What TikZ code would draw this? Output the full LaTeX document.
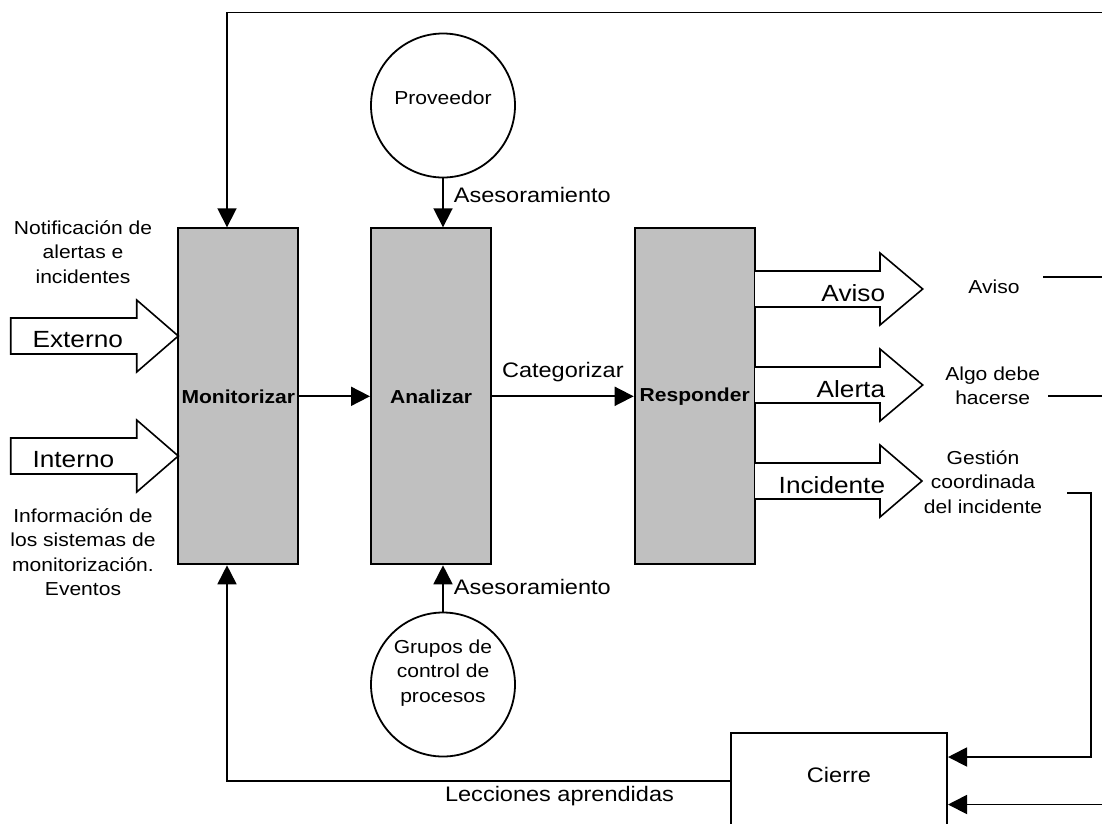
\documentclass[tikz,border=0pt]{standalone}
\usepackage{fontspec}
\setmainfont{Liberation Sans}[FakeStretch=1.12]
\usetikzlibrary{positioning,arrows.meta}
\definecolor{boxgray}{RGB}{192,192,192}

\begin{document}
\begin{tikzpicture}[x=1pt,y=-1pt,line width=1.8pt,>={Triangle[length=19pt,width=19pt]}]
  \tikzstyle{stage}=[rectangle,draw,fill=boxgray,line width=2pt,minimum width=120pt,minimum height=336pt,inner sep=0pt,font=\bfseries\fontsize{18.8}{24}\selectfont]
  \tikzstyle{party}=[circle,draw,minimum size=144pt,inner sep=0pt]
  \tikzstyle{note}=[inner sep=0pt,align=center,font=\fontsize{18.8}{24.5}\selectfont]
  \tikzstyle{flow}=[inner sep=0pt,font=\fontsize{21}{25}\selectfont]
  \tikzstyle{big}=[inner sep=0pt,font=\fontsize{23.4}{28}\selectfont]
  \tikzstyle{fat}=[draw,fill=white,line width=1.6pt]
  \useasboundingbox (0,0) rectangle (1102,823);

  \node[stage] (mon)  at (238.3,396.3) {Monitorizar};
  \node[stage] (ana)  at (431,396.3)   {Analizar};
  \node[stage] (resp) at (694.7,396.3) {Responder};
  \node[party] (prov) at (443,105.5) {};
  \node[party] (grp)  at (443,684.5) {};
  \node[note] (provtxt) at ([yshift=8pt]prov.center) {Proveedor};
  \node[note] (grptxt)  at (443,673) {Grupos de\\control de\\procesos};
  \node[draw,line width=2pt,minimum width=216pt,minimum height=97pt,inner sep=0pt] (cierre) at (839,781) {};
  \node[flow] (cierretxt) at (839,775) {Cierre};

  % entradas
  \draw[fat] (10.7,318) -- (136.7,318) -- (136.7,300) -- (178.3,336) -- (136.7,372) -- (136.7,354) -- (10.7,354) -- cycle;
  \draw[fat] (10.7,438) -- (136.7,438) -- (136.7,420) -- (178.3,456) -- (136.7,492) -- (136.7,474) -- (10.7,474) -- cycle;
  \node[big,anchor=west] (ext) at (31.7,340) {Externo};
  \node[big,anchor=west] (int) at (31.7,460) {Interno};
  \node[note] (notif) at (83,252) {Notificación de\\alertas e\\incidentes};
  \node[note] (info)  at (83,552) {Información de\\los sistemas de\\monitorización.\\Eventos};

  % salidas
  \draw[fat] (755,271) -- (880,271) -- (880,253) -- (922.7,289) -- (880,325) -- (880,307) -- (755,307);
  \draw[fat] (755,367) -- (880,367) -- (880,349) -- (922.7,385) -- (880,421) -- (880,403) -- (755,403);
  \draw[fat] (755,463) -- (880,463) -- (880,445) -- (922,481) -- (880,517) -- (880,499) -- (755,499);
  \node[big,anchor=east] (aviso)  at (886,293) {Aviso};
  \node[big,anchor=east] (alerta) at (886,389) {Alerta};
  \node[big,anchor=east] (incid)  at (886,485) {Incidente};
  \node[note] (avisolbl) at (994,287)   {Aviso};
  \node[note] (algo)     at (992.7,386) {Algo debe\\hacerse};
  \node[note] (gestion)  at (983,482)   {Gestión\\coordinada\\del incidente};

  % flujo principal
  \draw[->] (mon) -- (ana);
  \draw[->] (ana) -- node[flow,above=14pt] (categ) {Categorizar} (resp);
  \draw[->] (prov) -- (prov |- ana.north);
  \draw[->] (grp) -- (grp |- ana.south);
  \node[flow,anchor=west] (ases1) at (453,195) {Asesoramiento};
  \node[flow,anchor=west] (ases2) at (453,587) {Asesoramiento};

  % realimentacion
  \coordinate (topend)  at (1102,12.5);
  \coordinate (topturn) at (227,12.5);
  \draw[->] (topend) -- (topturn) -- (topturn |- mon.north);
  \coordinate (backturn) at (227,781);
  \draw[->] (cierre.west) -- (backturn) -- (backturn |- mon.south);
  \node[flow] (lecc) at (559.5,796) {Lecciones aprendidas};

  \coordinate (avisostart) at (1043,277);
  \coordinate (avisoend)   at (1102,277);
  \draw (avisostart) -- (avisoend);
  \coordinate (algostart) at (1048,396);
  \coordinate (algoend)   at (1102,396);
  \draw (algostart) -- (algoend);
  \coordinate (gest1) at (1067,493);
  \coordinate (gest2) at (1091,493);
  \draw[->] (gest1) -- (gest2) |- ([yshift=24pt]cierre.east);
  \coordinate (botend) at (1102,804.5);
  \draw[->] (botend) -- (botend -| cierre.east);
\end{tikzpicture}
\end{document}
